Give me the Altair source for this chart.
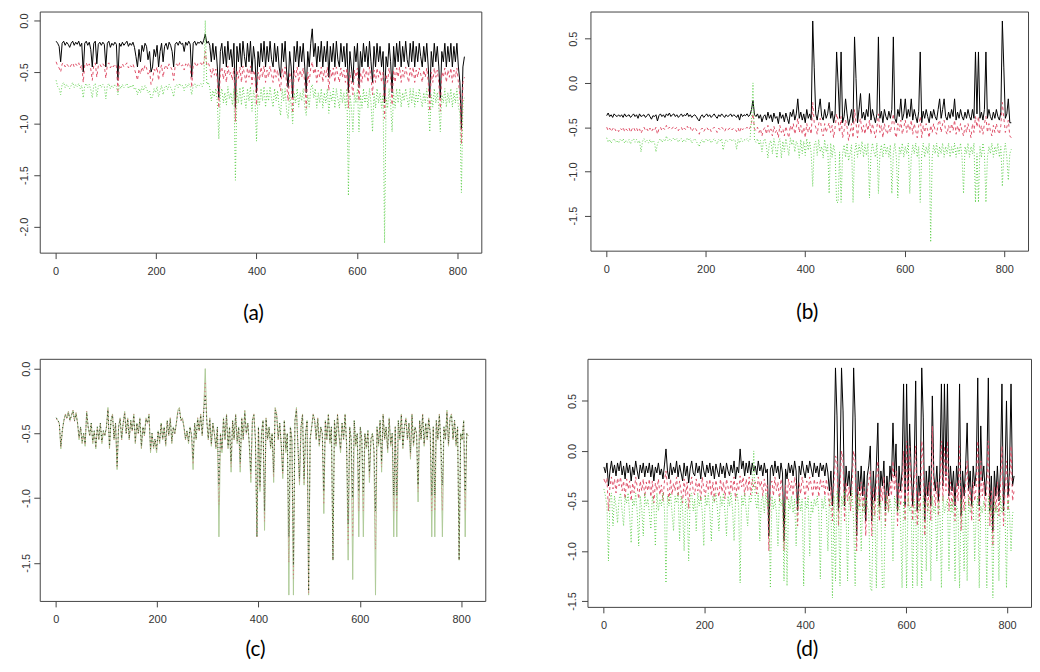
import altair as alt
import pandas as pd

# ---------------- data (one value every 3 steps) ----------------
X_STEP = 3
X_TICKS = [0, 200, 400, 600, 800]
PANEL_LABELS = ["(a)", "(b)", "(c)", "(d)"]

A_BLACK = [
    -0.20, -0.22, -0.25, -0.40, -0.22, -0.20, -0.24, -0.21, -0.23, -0.26,
    -0.22, -0.20, -0.24, -0.21, -0.23, -0.20, -0.25, -0.22, -0.50, -0.22,
    -0.20, -0.24, -0.21, -0.28, -0.45, -0.22, -0.20, -0.42, -0.23, -0.21,
    -0.24, -0.21, -0.23, -0.45, -0.22, -0.20, -0.26, -0.22, -0.24, -0.21,
    -0.23, -0.58, -0.22, -0.25, -0.21, -0.24, -0.22, -0.20, -0.25, -0.22,
    -0.24, -0.21, -0.26, -0.35, -0.45, -0.28, -0.40, -0.24, -0.30, -0.22,
    -0.25, -0.38, -0.30, -0.50, -0.45, -0.28, -0.35, -0.24, -0.45, -0.30,
    -0.22, -0.40, -0.25, -0.22, -0.28, -0.21, -0.24, -0.30, -0.45, -0.23,
    -0.21, -0.24, -0.20, -0.23, -0.22, -0.30, -0.21, -0.24, -0.20, -0.23,
    -0.55, -0.22, -0.20, -0.24, -0.21, -0.22, -0.20, -0.23, -0.19, -0.13,
    -0.22, -0.20, -0.24, -0.40, -0.22, -0.38, -0.25, -0.45, -0.75, -0.30,
    -0.22, -0.42, -0.25, -0.45, -0.20, -0.38, -0.28, -0.45, -0.22, -0.85,
    -0.25, -0.40, -0.22, -0.45, -0.20, -0.35, -0.45, -0.22, -0.40, -0.20,
    -0.50, -0.25, -0.38, -0.70, -0.30, -0.45, -0.22, -0.40, -0.20, -0.45,
    -0.25, -0.40, -0.20, -0.38, -0.45, -0.22, -0.40, -0.25, -0.45, -0.55,
    -0.22, -0.40, -0.20, -0.50, -0.65, -0.30, -0.45, -0.75, -0.25, -0.40,
    -0.20, -0.45, -0.25, -0.40, -0.22, -0.45, -0.70, -0.30, -0.45, -0.22,
    -0.08, -0.35, -0.22, -0.45, -0.25, -0.40, -0.20, -0.45, -0.25, -0.40,
    -0.20, -0.55, -0.25, -0.40, -0.22, -0.45, -0.20, -0.38, -0.45, -0.22,
    -0.40, -0.25, -0.45, -0.22, -0.70, -0.30, -0.45, -0.60, -0.25, -0.40,
    -0.22, -0.65, -0.30, -0.45, -0.22, -0.40, -0.25, -0.45, -0.20, -0.40,
    -0.60, -0.25, -0.45, -0.22, -0.40, -0.25, -0.45, -0.30, -0.80, -0.35,
    -0.45, -0.22, -0.40, -0.70, -0.25, -0.45, -0.22, -0.40, -0.20, -0.45,
    -0.25, -0.40, -0.20, -0.38, -0.45, -0.22, -0.40, -0.20, -0.45, -0.25,
    -0.40, -0.22, -0.35, -0.45, -0.25, -0.40, -0.22, -0.45, -0.75, -0.30,
    -0.45, -0.22, -0.40, -0.25, -0.45, -0.75, -0.30, -0.40, -0.22, -0.45,
    -0.25, -0.40, -0.22, -0.45, -0.25, -0.40, -0.22, -0.45, -0.60, -1.05,
    -0.45, -0.35,
]
A_RED = [
    -0.40, -0.44, -0.46, -0.50, -0.42, -0.41, -0.45, -0.42, -0.44, -0.46,
    -0.43, -0.41, -0.45, -0.42, -0.44, -0.41, -0.46, -0.43, -0.60, -0.43,
    -0.41, -0.45, -0.42, -0.47, -0.58, -0.43, -0.41, -0.55, -0.44, -0.42,
    -0.45, -0.42, -0.44, -0.56, -0.43, -0.41, -0.46, -0.43, -0.45, -0.42,
    -0.44, -0.68, -0.43, -0.46, -0.42, -0.45, -0.43, -0.41, -0.46, -0.43,
    -0.45, -0.42, -0.47, -0.52, -0.58, -0.47, -0.52, -0.45, -0.49, -0.43,
    -0.46, -0.52, -0.48, -0.62, -0.58, -0.47, -0.50, -0.45, -0.58, -0.48,
    -0.43, -0.55, -0.46, -0.43, -0.47, -0.42, -0.45, -0.48, -0.58, -0.44,
    -0.42, -0.45, -0.41, -0.44, -0.43, -0.48, -0.42, -0.45, -0.41, -0.44,
    -0.65, -0.43, -0.41, -0.45, -0.42, -0.43, -0.41, -0.44, -0.40, -0.30,
    -0.43, -0.41, -0.45, -0.55, -0.46, -0.53, -0.47, -0.58, -0.85, -0.50,
    -0.45, -0.57, -0.48, -0.60, -0.44, -0.53, -0.50, -0.58, -0.46, -0.98,
    -0.48, -0.56, -0.45, -0.60, -0.44, -0.52, -0.60, -0.46, -0.55, -0.44,
    -0.62, -0.48, -0.53, -0.82, -0.50, -0.58, -0.45, -0.55, -0.44, -0.60,
    -0.48, -0.55, -0.44, -0.53, -0.60, -0.46, -0.55, -0.48, -0.60, -0.68,
    -0.46, -0.55, -0.45, -0.62, -0.78, -0.50, -0.58, -0.90, -0.48, -0.55,
    -0.45, -0.60, -0.48, -0.55, -0.46, -0.60, -0.85, -0.50, -0.60, -0.46,
    -0.40, -0.52, -0.46, -0.60, -0.48, -0.55, -0.45, -0.60, -0.48, -0.55,
    -0.45, -0.68, -0.48, -0.55, -0.46, -0.60, -0.45, -0.53, -0.60, -0.46,
    -0.55, -0.48, -0.60, -0.46, -0.85, -0.50, -0.60, -0.72, -0.48, -0.55,
    -0.46, -0.78, -0.50, -0.60, -0.46, -0.55, -0.48, -0.60, -0.45, -0.55,
    -0.72, -0.48, -0.60, -0.46, -0.55, -0.48, -0.60, -0.50, -0.95, -0.52,
    -0.60, -0.46, -0.55, -0.82, -0.48, -0.60, -0.46, -0.55, -0.45, -0.60,
    -0.48, -0.55, -0.45, -0.53, -0.60, -0.46, -0.55, -0.45, -0.60, -0.48,
    -0.55, -0.46, -0.52, -0.60, -0.48, -0.55, -0.46, -0.60, -0.88, -0.50,
    -0.60, -0.46, -0.55, -0.48, -0.60, -0.88, -0.50, -0.55, -0.46, -0.60,
    -0.48, -0.55, -0.46, -0.60, -0.48, -0.55, -0.46, -0.60, -0.72, -1.20,
    -0.60, -0.55,
]
A_GREEN = [
    -0.58, -0.64, -0.66, -0.72, -0.62, -0.60, -0.65, -0.62, -0.64, -0.66,
    -0.63, -0.60, -0.65, -0.62, -0.64, -0.61, -0.66, -0.63, -0.75, -0.63,
    -0.61, -0.65, -0.62, -0.67, -0.75, -0.63, -0.61, -0.74, -0.64, -0.62,
    -0.65, -0.62, -0.64, -0.76, -0.63, -0.61, -0.66, -0.63, -0.65, -0.62,
    -0.64, -0.72, -0.63, -0.66, -0.62, -0.65, -0.63, -0.61, -0.66, -0.63,
    -0.65, -0.62, -0.67, -0.66, -0.72, -0.66, -0.70, -0.64, -0.68, -0.63,
    -0.66, -0.70, -0.68, -0.76, -0.74, -0.66, -0.70, -0.64, -0.74, -0.68,
    -0.63, -0.72, -0.65, -0.63, -0.67, -0.62, -0.65, -0.68, -0.74, -0.64,
    -0.62, -0.65, -0.61, -0.64, -0.63, -0.68, -0.62, -0.65, -0.61, -0.64,
    -0.72, -0.63, -0.61, -0.65, -0.62, -0.63, -0.61, -0.64, -0.60, 0.00,
    -0.62, -0.60, -0.65, -0.78, -0.68, -0.74, -0.66, -0.80, -1.15, -0.72,
    -0.66, -0.80, -0.70, -0.82, -0.64, -0.76, -0.70, -0.82, -0.66, -1.55,
    -0.68, -0.80, -0.65, -0.82, -0.64, -0.75, -0.85, -0.66, -0.78, -0.64,
    -0.88, -0.68, -0.76, -1.17, -0.72, -0.82, -0.66, -0.78, -0.64, -0.84,
    -0.68, -0.78, -0.64, -0.76, -0.84, -0.66, -0.78, -0.68, -0.84, -0.92,
    -0.66, -0.78, -0.66, -0.88, -0.95, -0.72, -0.82, -1.00, -0.70, -0.80,
    -0.66, -0.84, -0.70, -0.78, -0.66, -0.84, -0.92, -0.72, -0.84, -0.66,
    -0.62, -0.75, -0.66, -0.85, -0.70, -0.80, -0.66, -0.85, -0.70, -0.80,
    -0.66, -0.90, -0.70, -0.78, -0.66, -0.85, -0.66, -0.76, -0.85, -0.66,
    -0.80, -0.70, -0.85, -0.66, -1.70, -0.72, -0.84, -1.08, -0.70, -0.80,
    -0.66, -1.08, -0.72, -0.85, -0.66, -0.80, -0.70, -0.85, -0.66, -0.80,
    -1.08, -0.70, -0.85, -0.66, -0.80, -0.70, -0.85, -0.72, -2.16, -0.75,
    -0.85, -0.66, -0.80, -1.08, -0.70, -0.85, -0.66, -0.80, -0.66, -0.84,
    -0.70, -0.78, -0.66, -0.76, -0.84, -0.66, -0.80, -0.66, -0.84, -0.70,
    -0.80, -0.66, -0.76, -0.84, -0.70, -0.80, -0.66, -0.84, -1.08, -0.72,
    -0.84, -0.66, -0.80, -0.70, -0.84, -1.08, -0.72, -0.80, -0.66, -0.84,
    -0.70, -0.80, -0.66, -0.84, -0.70, -0.80, -0.66, -0.84, -0.90, -1.67,
    -0.80, -0.75,
]

B_BLACK = [
    -0.37, -0.34, -0.38, -0.36, -0.39, -0.35, -0.37, -0.38, -0.36, -0.38,
    -0.36, -0.39, -0.35, -0.38, -0.37, -0.36, -0.39, -0.37, -0.35, -0.38,
    -0.36, -0.40, -0.35, -0.38, -0.37, -0.36, -0.39, -0.37, -0.35, -0.38,
    -0.41, -0.37, -0.38, -0.36, -0.43, -0.37, -0.35, -0.38, -0.36, -0.39,
    -0.35, -0.37, -0.34, -0.38, -0.36, -0.35, -0.38, -0.36, -0.39, -0.37,
    -0.35, -0.38, -0.36, -0.37, -0.34, -0.38, -0.36, -0.39, -0.37, -0.36,
    -0.38, -0.41, -0.43, -0.38, -0.36, -0.39, -0.37, -0.35, -0.38, -0.36,
    -0.39, -0.37, -0.35, -0.38, -0.40, -0.36, -0.38, -0.35, -0.37, -0.39,
    -0.36, -0.38, -0.37, -0.35, -0.38, -0.36, -0.37, -0.39, -0.36, -0.42,
    -0.35, -0.38, -0.36, -0.37, -0.35, -0.38, -0.36, -0.30, -0.20, -0.36,
    -0.38, -0.35, -0.40, -0.36, -0.44, -0.38, -0.36, -0.42, -0.33, -0.40,
    -0.36, -0.44, -0.34, -0.40, -0.38, -0.46, -0.33, -0.40, -0.36, -0.44,
    -0.34, -0.40, -0.46, -0.33, -0.38, -0.30, -0.42, -0.35, -0.18, -0.40,
    -0.33, -0.42, -0.35, -0.45, -0.30, -0.40, -0.35, -0.42, 0.70, 0.17,
    -0.35, -0.42, -0.30, -0.18, -0.38, -0.42, -0.30, -0.40, -0.35, -0.22,
    -0.40, -0.32, -0.45, -0.35, 0.35, 0.00, -0.40, 0.35, -0.45, -0.38,
    -0.18, -0.35, -0.48, -0.40, -0.30, -0.45, 0.52, 0.05, -0.45, -0.30,
    -0.12, -0.40, -0.33, -0.42, -0.30, -0.38, -0.12, -0.42, -0.30, -0.38,
    -0.45, -0.35, 0.52, -0.40, -0.32, -0.45, -0.30, -0.38, -0.42, -0.32,
    -0.40, -0.30, 0.52, -0.40, -0.45, -0.30, -0.38, -0.18, -0.42, -0.35,
    -0.18, -0.40, -0.30, -0.38, -0.18, -0.42, -0.30, -0.38, -0.45, -0.32,
    0.35, -0.45, -0.32, -0.40, -0.30, -0.38, -0.45, -0.32, -0.40, -0.30,
    -0.38, -0.42, -0.30, -0.18, -0.40, -0.30, -0.18, -0.38, -0.42, -0.33,
    -0.40, -0.30, -0.38, -0.18, -0.42, -0.33, -0.40, -0.30, -0.38, -0.42,
    -0.33, -0.40, -0.30, -0.38, -0.42, -0.30, -0.40, 0.35, -0.35, 0.35,
    -0.40, -0.33, -0.42, -0.30, 0.35, -0.40, -0.30, -0.38, -0.42, -0.33,
    -0.40, -0.30, -0.38, -0.42, -0.33, 0.70, 0.17, -0.40, -0.35, -0.18,
    -0.45, -0.45,
]
B_RED = [
    -0.50, -0.54, -0.51, -0.55, -0.52, -0.50, -0.54, -0.52, -0.55, -0.51,
    -0.53, -0.50, -0.55, -0.52, -0.54, -0.51, -0.56, -0.52, -0.50, -0.54,
    -0.51, -0.55, -0.52, -0.57, -0.53, -0.50, -0.54, -0.52, -0.55, -0.51,
    -0.55, -0.52, -0.54, -0.50, -0.58, -0.52, -0.50, -0.54, -0.51, -0.53,
    -0.48, -0.52, -0.50, -0.53, -0.51, -0.49, -0.52, -0.50, -0.54, -0.51,
    -0.50, -0.54, -0.51, -0.53, -0.49, -0.52, -0.50, -0.55, -0.52, -0.50,
    -0.53, -0.56, -0.58, -0.53, -0.51, -0.55, -0.52, -0.50, -0.53, -0.51,
    -0.55, -0.52, -0.50, -0.53, -0.56, -0.51, -0.53, -0.50, -0.52, -0.55,
    -0.51, -0.53, -0.52, -0.50, -0.53, -0.51, -0.52, -0.55, -0.51, -0.56,
    -0.50, -0.53, -0.51, -0.52, -0.50, -0.53, -0.51, -0.45, -0.35, -0.52,
    -0.54, -0.50, -0.56, -0.52, -0.60, -0.53, -0.50, -0.58, -0.48, -0.56,
    -0.52, -0.60, -0.49, -0.56, -0.53, -0.62, -0.48, -0.56, -0.52, -0.60,
    -0.49, -0.56, -0.62, -0.48, -0.54, -0.46, -0.58, -0.50, -0.40, -0.56,
    -0.48, -0.58, -0.50, -0.62, -0.46, -0.56, -0.50, -0.58, -0.22, -0.45,
    -0.50, -0.58, -0.46, -0.40, -0.54, -0.60, -0.46, -0.56, -0.50, -0.45,
    -0.56, -0.48, -0.62, -0.50, -0.35, -0.42, -0.56, -0.38, -0.62, -0.54,
    -0.42, -0.50, -0.65, -0.56, -0.46, -0.62, -0.30, -0.45, -0.62, -0.46,
    -0.40, -0.56, -0.48, -0.58, -0.46, -0.54, -0.42, -0.58, -0.46, -0.54,
    -0.62, -0.50, -0.35, -0.56, -0.48, -0.62, -0.46, -0.54, -0.58, -0.48,
    -0.56, -0.46, -0.35, -0.56, -0.62, -0.46, -0.54, -0.42, -0.58, -0.50,
    -0.42, -0.56, -0.46, -0.54, -0.42, -0.58, -0.46, -0.54, -0.62, -0.48,
    -0.38, -0.62, -0.48, -0.56, -0.46, -0.54, -0.62, -0.48, -0.56, -0.46,
    -0.54, -0.58, -0.46, -0.42, -0.56, -0.46, -0.42, -0.54, -0.58, -0.48,
    -0.56, -0.46, -0.54, -0.42, -0.58, -0.48, -0.56, -0.46, -0.54, -0.60,
    -0.48, -0.56, -0.46, -0.54, -0.62, -0.46, -0.56, -0.38, -0.50, -0.38,
    -0.56, -0.48, -0.58, -0.46, -0.38, -0.56, -0.46, -0.54, -0.60, -0.48,
    -0.56, -0.46, -0.54, -0.58, -0.48, -0.22, -0.40, -0.56, -0.50, -0.42,
    -0.60, -0.62,
]
B_GREEN = [
    -0.62, -0.67, -0.64, -0.68, -0.65, -0.63, -0.67, -0.65, -0.68, -0.64,
    -0.66, -0.63, -0.68, -0.65, -0.67, -0.64, -0.69, -0.65, -0.63, -0.67,
    -0.64, -0.68, -0.65, -0.78, -0.66, -0.63, -0.67, -0.65, -0.68, -0.64,
    -0.68, -0.65, -0.67, -0.78, -0.69, -0.65, -0.63, -0.67, -0.64, -0.66,
    -0.60, -0.65, -0.63, -0.66, -0.64, -0.62, -0.65, -0.63, -0.67, -0.64,
    -0.63, -0.67, -0.64, -0.66, -0.62, -0.65, -0.63, -0.68, -0.65, -0.63,
    -0.66, -0.69, -0.72, -0.66, -0.64, -0.68, -0.65, -0.63, -0.66, -0.64,
    -0.68, -0.65, -0.63, -0.66, -0.69, -0.64, -0.66, -0.63, -0.76, -0.68,
    -0.64, -0.66, -0.65, -0.63, -0.66, -0.64, -0.65, -0.75, -0.64, -0.68,
    -0.63, -0.66, -0.64, -0.65, -0.63, -0.66, -0.64, -0.40, 0.00, -0.65,
    -0.67, -0.63, -0.70, -0.65, -0.78, -0.66, -0.63, -0.72, -0.85, -0.68,
    -0.65, -0.80, -0.63, -0.72, -0.85, -0.68, -0.63, -0.85, -0.66, -0.78,
    -0.63, -0.72, -0.82, -0.62, -0.70, -0.64, -0.78, -0.66, -0.70, -0.85,
    -0.64, -0.80, -0.66, -0.82, -0.63, -0.76, -0.66, -0.80, -1.17, -0.70,
    -0.66, -0.82, -0.64, -0.78, -0.72, -0.85, -0.64, -0.78, -0.70, -1.25,
    -0.68, -0.84, -0.70, -0.80, -1.35, -1.35, -0.78, -1.35, -0.80, -0.70,
    -0.84, -0.68, -0.88, -0.80, -0.70, -1.35, -0.80, -0.68, -0.84, -0.70,
    -0.80, -0.66, -0.84, -0.70, -0.82, -0.68, -1.30, -0.80, -0.68, -0.78,
    -0.84, -0.68, -1.25, -0.80, -0.70, -0.84, -0.68, -0.80, -0.72, -0.84,
    -0.70, -1.25, -0.80, -0.68, -0.84, -1.30, -0.72, -0.80, -0.68, -0.84,
    -0.72, -0.80, -0.68, -1.25, -0.84, -0.70, -0.80, -0.68, -0.84, -0.72,
    -1.35, -0.80, -0.68, -0.84, -0.72, -0.80, -0.68, -1.80, -0.84, -0.70,
    -0.80, -0.68, -0.84, -0.72, -0.80, -0.68, -0.84, -0.72, -0.80, -0.68,
    -0.84, -0.72, -0.80, -0.68, -0.84, -0.72, -0.80, -0.68, -0.84, -1.25,
    -0.72, -0.80, -0.68, -0.84, -0.72, -0.80, -0.68, -1.35, -0.80, -1.35,
    -0.72, -0.84, -0.68, -0.80, -1.35, -0.84, -0.72, -0.80, -0.68, -0.84,
    -0.72, -0.80, -0.68, -0.84, -0.72, -1.17, -0.80, -0.68, -0.84, -1.10,
    -0.80, -0.75,
]

C_BLACK = [
    -0.38, -0.40, -0.42, -0.60, -0.47, -0.40, -0.36, -0.38, -0.34, -0.40,
    -0.36, -0.33, -0.40, -0.35, -0.42, -0.53, -0.45, -0.56, -0.50, -0.58,
    -0.34, -0.45, -0.51, -0.42, -0.56, -0.48, -0.60, -0.45, -0.54, -0.42,
    -0.56, -0.48, -0.51, -0.45, -0.32, -0.60, -0.40, -0.36, -0.54, -0.42,
    -0.75, -0.45, -0.39, -0.54, -0.42, -0.35, -0.50, -0.39, -0.54, -0.40,
    -0.48, -0.36, -0.56, -0.42, -0.50, -0.39, -0.60, -0.45, -0.51, -0.39,
    -0.42, -0.36, -0.62, -0.50, -0.60, -0.54, -0.62, -0.48, -0.56, -0.42,
    -0.54, -0.45, -0.58, -0.40, -0.51, -0.39, -0.56, -0.45, -0.50, -0.42,
    -0.34, -0.32, -0.40, -0.39, -0.45, -0.54, -0.48, -0.56, -0.45, -0.51,
    -0.70, -0.42, -0.54, -0.39, -0.48, -0.36, -0.51, -0.33, -0.20, -0.40,
    -0.54, -0.39, -0.58, -0.42, -0.50, -0.60, -0.45, -0.90, -0.50, -0.62,
    -0.39, -0.54, -0.36, -0.60, -0.45, -0.72, -0.40, -0.54, -0.36, -0.56,
    -0.45, -0.72, -0.39, -0.54, -0.34, -0.50, -0.42, -0.58, -0.80, -0.40,
    -0.36, -0.54, -1.30, -0.45, -0.90, -0.50, -0.40, -1.10, -0.39, -0.54,
    -0.45, -0.60, -0.50, -0.80, -0.32, -0.36, -0.54, -0.42, -0.58, -0.80,
    -0.40, -0.62, -0.50, -1.30, -0.45, -0.54, -1.52, -0.40, -0.32, -0.60,
    -0.85, -0.45, -0.36, -0.85, -0.50, -0.40, -1.72, -0.54, -0.45, -0.36,
    -0.40, -0.54, -0.39, -0.58, -0.45, -0.50, -0.95, -0.40, -0.54, -0.36,
    -0.56, -0.45, -1.48, -0.40, -0.58, -0.36, -0.51, -0.62, -0.42, -0.54,
    -0.36, -0.58, -1.20, -0.45, -0.54, -1.00, -0.40, -0.58, -0.50, -0.95,
    -0.45, -0.54, -0.95, -0.50, -0.60, -0.48, -0.80, -0.54, -0.50, -0.62,
    -1.10, -0.45, -0.58, -0.40, -0.72, -0.36, -0.54, -0.45, -0.62, -0.39,
    -0.58, -0.50, -0.98, -0.45, -0.98, -0.40, -0.54, -0.36, -0.60, -0.45,
    -0.39, -0.54, -0.42, -0.65, -0.36, -0.58, -0.45, -0.50, -0.90, -0.40,
    -0.54, -0.36, -0.58, -0.42, -0.54, -0.39, -0.50, -0.98, -0.45, -0.98,
    -0.40, -0.54, -0.36, -0.58, -0.90, -0.45, -0.54, -0.34, -0.58, -0.39,
    -0.36, -0.54, -0.40, -0.58, -0.45, -1.48, -0.50, -0.54, -0.40, -0.95,
    -0.50, -0.52,
]
C_RED = [
    -0.39, -0.41, -0.43, -0.61, -0.48, -0.41, -0.35, -0.39, -0.33, -0.41,
    -0.37, -0.32, -0.41, -0.34, -0.43, -0.54, -0.46, -0.57, -0.51, -0.59,
    -0.33, -0.46, -0.52, -0.43, -0.57, -0.49, -0.61, -0.46, -0.55, -0.43,
    -0.57, -0.49, -0.52, -0.46, -0.31, -0.61, -0.41, -0.35, -0.55, -0.43,
    -0.76, -0.46, -0.38, -0.55, -0.43, -0.34, -0.51, -0.38, -0.55, -0.41,
    -0.49, -0.35, -0.57, -0.43, -0.51, -0.38, -0.61, -0.46, -0.52, -0.38,
    -0.43, -0.35, -0.63, -0.51, -0.61, -0.55, -0.63, -0.49, -0.57, -0.43,
    -0.55, -0.46, -0.59, -0.41, -0.52, -0.38, -0.57, -0.46, -0.51, -0.43,
    -0.33, -0.31, -0.41, -0.38, -0.46, -0.55, -0.49, -0.57, -0.46, -0.52,
    -0.74, -0.43, -0.55, -0.38, -0.49, -0.35, -0.52, -0.32, -0.10, -0.41,
    -0.55, -0.38, -0.59, -0.43, -0.51, -0.61, -0.46, -1.05, -0.51, -0.63,
    -0.38, -0.55, -0.35, -0.61, -0.46, -0.76, -0.41, -0.55, -0.35, -0.57,
    -0.46, -0.76, -0.38, -0.55, -0.33, -0.51, -0.43, -0.59, -0.84, -0.41,
    -0.35, -0.55, -1.30, -0.46, -0.92, -0.51, -0.41, -1.18, -0.38, -0.55,
    -0.46, -0.61, -0.51, -0.84, -0.31, -0.35, -0.55, -0.43, -0.59, -0.82,
    -0.41, -0.63, -0.51, -1.50, -0.46, -0.55, -1.62, -0.41, -0.31, -0.61,
    -0.88, -0.46, -0.35, -0.88, -0.51, -0.41, -1.74, -0.55, -0.46, -0.35,
    -0.41, -0.55, -0.38, -0.59, -0.46, -0.51, -1.05, -0.41, -0.55, -0.35,
    -0.57, -0.46, -1.48, -0.41, -0.59, -0.35, -0.52, -0.63, -0.43, -0.55,
    -0.35, -0.59, -1.35, -0.46, -0.55, -1.30, -0.41, -0.59, -0.51, -1.10,
    -0.46, -0.55, -1.10, -0.51, -0.61, -0.49, -0.84, -0.55, -0.51, -0.63,
    -1.40, -0.46, -0.59, -0.41, -0.76, -0.35, -0.55, -0.46, -0.63, -0.38,
    -0.59, -0.51, -1.10, -0.46, -1.10, -0.41, -0.55, -0.35, -0.61, -0.46,
    -0.38, -0.55, -0.43, -0.68, -0.35, -0.59, -0.46, -0.51, -0.95, -0.41,
    -0.55, -0.35, -0.59, -0.43, -0.55, -0.38, -0.51, -1.10, -0.46, -1.10,
    -0.41, -0.55, -0.35, -0.59, -1.10, -0.46, -0.55, -0.33, -0.59, -0.38,
    -0.35, -0.55, -0.41, -0.59, -0.46, -1.48, -0.51, -0.55, -0.41, -1.10,
    -0.50, -0.52,
]
C_GREEN = [
    -0.38, -0.40, -0.42, -0.62, -0.48, -0.40, -0.35, -0.38, -0.33, -0.40,
    -0.36, -0.32, -0.40, -0.34, -0.42, -0.55, -0.45, -0.58, -0.50, -0.60,
    -0.33, -0.45, -0.52, -0.42, -0.58, -0.48, -0.62, -0.45, -0.55, -0.42,
    -0.58, -0.48, -0.52, -0.45, -0.30, -0.62, -0.40, -0.35, -0.55, -0.42,
    -0.78, -0.45, -0.38, -0.55, -0.42, -0.33, -0.50, -0.38, -0.55, -0.40,
    -0.48, -0.35, -0.58, -0.42, -0.50, -0.38, -0.62, -0.45, -0.52, -0.38,
    -0.42, -0.35, -0.65, -0.50, -0.62, -0.55, -0.65, -0.48, -0.58, -0.42,
    -0.55, -0.45, -0.60, -0.40, -0.52, -0.38, -0.58, -0.45, -0.50, -0.42,
    -0.32, -0.30, -0.40, -0.38, -0.45, -0.55, -0.48, -0.58, -0.45, -0.52,
    -0.78, -0.42, -0.55, -0.38, -0.48, -0.35, -0.52, -0.32, 0.00, -0.40,
    -0.55, -0.38, -0.60, -0.42, -0.50, -0.62, -0.45, -1.30, -0.50, -0.65,
    -0.38, -0.55, -0.35, -0.62, -0.45, -0.80, -0.40, -0.55, -0.35, -0.58,
    -0.45, -0.80, -0.38, -0.55, -0.32, -0.50, -0.42, -0.60, -0.88, -0.40,
    -0.35, -0.55, -1.30, -0.45, -0.95, -0.50, -0.40, -1.25, -0.38, -0.55,
    -0.45, -0.62, -0.50, -0.88, -0.30, -0.35, -0.55, -0.42, -0.60, -0.85,
    -0.40, -0.65, -0.50, -1.75, -0.45, -0.55, -1.75, -0.40, -0.30, -0.62,
    -0.90, -0.45, -0.35, -0.90, -0.50, -0.40, -1.75, -0.55, -0.45, -0.35,
    -0.40, -0.55, -0.38, -0.60, -0.45, -0.50, -1.12, -0.40, -0.55, -0.35,
    -0.58, -0.45, -1.48, -0.40, -0.60, -0.35, -0.52, -0.65, -0.42, -0.55,
    -0.35, -0.60, -1.48, -0.45, -0.55, -1.63, -0.40, -0.60, -0.50, -1.30,
    -0.45, -0.55, -1.30, -0.50, -0.62, -0.48, -0.88, -0.55, -0.50, -0.65,
    -1.75, -0.45, -0.60, -0.40, -0.80, -0.35, -0.55, -0.45, -0.65, -0.38,
    -0.60, -0.50, -1.30, -0.45, -1.30, -0.40, -0.55, -0.35, -0.62, -0.45,
    -0.38, -0.55, -0.42, -0.70, -0.35, -0.60, -0.45, -0.50, -1.03, -0.40,
    -0.55, -0.35, -0.60, -0.42, -0.55, -0.38, -0.50, -1.30, -0.45, -1.30,
    -0.40, -0.55, -0.35, -0.60, -1.30, -0.45, -0.55, -0.32, -0.60, -0.38,
    -0.35, -0.55, -0.40, -0.60, -0.45, -1.48, -0.50, -0.55, -0.40, -1.30,
    -0.50, -0.52,
]

D_BLACK = [
    -0.16, -0.22, -0.12, -0.35, -0.20, -0.10, -0.22, -0.14, -0.25, -0.12,
    -0.20, -0.10, -0.24, -0.15, -0.28, -0.12, -0.22, -0.14, -0.30, -0.16,
    -0.24, -0.10, -0.20, -0.28, -0.14, -0.22, -0.12, -0.26, -0.15, -0.22,
    -0.12, -0.26, -0.14, -0.30, -0.16, -0.22, -0.12, -0.24, -0.18, -0.28,
    -0.14, 0.02, -0.20, -0.28, -0.12, -0.24, -0.16, -0.22, -0.10, -0.26,
    -0.14, -0.22, -0.30, -0.12, -0.25, -0.15, -0.32, -0.18, -0.10, -0.22,
    -0.25, -0.12, -0.22, -0.15, -0.28, -0.10, -0.20, -0.26, -0.14, -0.22,
    -0.12, -0.25, -0.15, -0.28, -0.13, -0.20, -0.26, -0.12, -0.23, -0.15,
    -0.27, -0.12, -0.20, -0.25, -0.14, -0.22, -0.10, -0.28, -0.16, -0.22,
    0.02, -0.18, -0.10, -0.25, -0.12, -0.22, -0.10, -0.24, -0.12, -0.20,
    -0.15, -0.24, -0.10, -0.20, -0.14, -0.25, -0.12, -0.22, -0.18, -0.85,
    -0.18, -0.14, -0.25, -0.10, -0.22, -0.15, -0.28, -0.12, -0.22, -0.90,
    -0.18, -0.28, -0.12, -0.22, -0.14, -0.25, -0.10, -0.20, -0.60, -0.15,
    -0.24, -0.10, -0.20, -0.27, -0.14, -0.22, -0.10, -0.18, -0.26, -0.12,
    -0.22, -0.15, -0.26, -0.12, -0.20, -0.14, -0.25, -0.12, -0.22, -0.40,
    -0.20, -0.55, -0.15, 0.83, 0.35, -0.60, -0.20, 0.83, 0.40, -0.55,
    -0.15, -0.35, -0.20, -0.45, -0.15, 0.83, 0.33, -0.85, -0.20, -0.40,
    -0.15, -0.45, -0.20, -0.70, -0.25, -0.15, 0.05, -0.70, -0.20, -0.50,
    -0.15, 0.28, -0.55, -0.20, -0.35, -0.10, -0.60, -0.25, -0.45, -0.15,
    -0.30, 0.28, -0.25, 0.07, -0.60, -0.15, -0.40, -0.20, 0.67, -0.55,
    0.67, -0.40, 0.27, -0.20, -0.55, -0.15, 0.70, -0.60, -0.25, -0.45,
    0.83, 0.33, -0.70, -0.20, -0.45, -0.15, -0.55, 0.55, -0.25, -0.40,
    -0.15, -0.50, -0.20, 0.67, -0.35, 0.67, -0.25, 0.67, -0.45, -0.15,
    -0.40, -0.20, -0.55, -0.15, -0.35, 0.67, -0.65, -0.20, -0.45, -0.15,
    0.28, -0.40, -0.20, -0.55, -0.15, -0.35, -0.20, 0.73, -0.55, 0.25,
    -0.30, -0.15, -0.45, -0.20, 0.73, -0.60, -0.25, -0.80, -0.20, -0.45,
    -0.15, -0.50, -0.20, 0.67, -0.60, -0.25, 0.50, -0.45, -0.20, 0.67,
    -0.35, -0.25,
]
D_RED = [
    -0.28, -0.33, -0.27, -0.60, -0.35, -0.26, -0.38, -0.28, -0.42, -0.27,
    -0.35, -0.26, -0.40, -0.30, -0.48, -0.28, -0.38, -0.30, -0.50, -0.32,
    -0.42, -0.26, -0.36, -0.48, -0.30, -0.40, -0.28, -0.46, -0.31, -0.40,
    -0.28, -0.46, -0.30, -0.52, -0.32, -0.40, -0.28, -0.44, -0.34, -0.50,
    -0.30, -0.20, -0.36, -0.50, -0.28, -0.44, -0.32, -0.40, -0.26, -0.46,
    -0.30, -0.40, -0.52, -0.28, -0.45, -0.31, -0.58, -0.36, -0.26, -0.40,
    -0.44, -0.28, -0.40, -0.31, -0.50, -0.26, -0.38, -0.46, -0.30, -0.40,
    -0.28, -0.45, -0.31, -0.50, -0.29, -0.38, -0.46, -0.28, -0.41, -0.31,
    -0.48, -0.28, -0.36, -0.45, -0.30, -0.40, -0.26, -0.50, -0.32, -0.40,
    -0.25, -0.36, -0.26, -0.45, -0.28, -0.40, -0.26, -0.44, -0.28, -0.36,
    -0.31, -0.43, -0.26, -0.36, -0.30, -0.45, -0.28, -0.40, -0.34, -1.00,
    -0.34, -0.30, -0.45, -0.26, -0.40, -0.31, -0.50, -0.28, -0.40, -1.00,
    -0.34, -0.50, -0.28, -0.40, -0.30, -0.45, -0.26, -0.36, -0.75, -0.31,
    -0.43, -0.26, -0.36, -0.48, -0.30, -0.40, -0.26, -0.34, -0.46, -0.28,
    -0.40, -0.31, -0.46, -0.28, -0.36, -0.30, -0.45, -0.28, -0.40, -0.55,
    -0.36, -0.70, -0.31, -0.05, -0.10, -0.75, -0.36, 0.00, -0.10, -0.70,
    -0.31, -0.50, -0.36, -0.60, -0.31, 0.00, -0.10, -1.00, -0.36, -0.55,
    -0.31, -0.60, -0.36, -0.85, -0.40, -0.31, -0.20, -0.85, -0.36, -0.65,
    -0.31, -0.10, -0.70, -0.36, -0.50, -0.26, -0.75, -0.40, -0.60, -0.31,
    -0.45, -0.10, -0.40, -0.20, -0.75, -0.31, -0.55, -0.36, 0.00, -0.70,
    0.10, -0.55, 0.05, -0.36, -0.70, -0.31, 0.05, -0.75, -0.40, -0.60,
    0.10, -0.10, -0.85, -0.36, -0.60, -0.31, -0.70, 0.25, -0.40, -0.55,
    -0.31, -0.65, -0.36, 0.10, -0.50, 0.05, -0.40, 0.10, -0.60, -0.31,
    -0.55, -0.36, -0.70, -0.31, -0.50, 0.05, -0.80, -0.36, -0.60, -0.31,
    -0.10, -0.55, -0.36, -0.70, -0.31, -0.50, -0.36, 0.10, -0.70, -0.10,
    -0.45, -0.31, -0.60, -0.36, 0.10, -0.75, -0.40, -0.95, -0.36, -0.60,
    -0.31, -0.65, -0.36, 0.05, -0.75, -0.40, -0.10, -0.60, -0.36, 0.05,
    -0.50, -0.40,
]
D_GREEN = [
    -0.38, -0.45, -0.55, -1.10, -0.48, -0.42, -0.75, -0.45, -0.55, -0.72,
    -0.48, -0.42, -0.60, -0.75, -0.45, -0.52, -0.42, -0.65, -0.92, -0.48,
    -0.55, -0.42, -0.62, -0.95, -0.45, -0.58, -0.85, -0.42, -0.55, -0.48,
    -0.62, -0.78, -0.45, -0.55, -0.95, -0.42, -0.60, -0.48, -0.55, -0.42,
    -0.58, -1.32, -0.45, -0.55, -0.42, -0.62, -0.80, -0.45, -0.52, -0.42,
    -0.90, -0.45, -0.58, -1.00, -0.48, -0.55, -1.10, -0.45, -0.42, -0.60,
    -0.48, -0.80, -0.42, -0.55, -0.45, -0.62, -0.95, -0.45, -0.55, -0.42,
    -0.60, -0.90, -0.45, -0.52, -0.42, -0.58, -0.80, -0.45, -0.55, -0.42,
    -0.62, -0.85, -0.45, -0.55, -0.42, -0.58, -0.90, -0.48, -0.42, -0.55,
    -1.32, -0.45, -0.55, -0.42, -0.60, -0.75, -0.45, -0.52, -0.42, 0.00,
    -0.48, -0.58, -0.42, -0.90, -0.50, -0.45, -0.62, -0.42, -0.55, -0.48,
    -1.37, -0.45, -0.58, -0.48, -0.62, -0.95, -0.45, -0.55, -0.48, -1.30,
    -0.50, -1.35, -0.48, -0.58, -0.45, -0.62, -0.48, -0.95, -0.52, -0.45,
    -0.60, -0.48, -1.35, -0.50, -0.58, -0.45, -1.05, -0.50, -0.62, -0.48,
    -0.55, -0.45, -0.62, -1.28, -0.48, -0.58, -0.45, -0.62, -1.00, -0.48,
    -0.55, -1.47, -0.45, -1.30, -0.40, -0.60, -1.35, -0.45, -0.55, -0.40,
    -0.62, -1.30, -0.45, -0.55, -0.40, -0.70, -1.35, -0.45, -0.60, -0.42,
    -1.00, -0.50, -0.62, -0.45, -0.55, -0.60, -1.37, -1.40, -0.50, -0.60,
    -1.37, -0.45, -0.62, -0.50, -1.37, -1.37, -0.55, -0.45, -0.62, -0.48,
    -0.60, -1.10, -0.45, -0.55, -0.62, -0.48, -0.70, -1.37, -0.50, -0.62,
    -1.37, -0.45, -0.60, -0.55, -1.37, -0.48, -0.62, -1.35, -0.50, -0.60,
    -1.37, -0.45, -0.62, -1.20, -0.50, -0.60, -1.30, -0.45, -0.62, -0.55,
    -1.10, -0.50, -0.60, -1.37, -0.45, -0.62, -0.55, -0.48, -1.20, -0.50,
    -0.62, -0.45, -1.30, -0.55, -0.60, -1.37, -0.48, -0.62, -1.20, -0.50,
    -1.30, -0.45, -0.62, -0.55, -0.50, -1.10, -0.60, -0.45, -1.37, -0.55,
    -0.62, -0.50, -0.60, -1.37, -0.45, -0.62, -0.55, -1.47, -0.50, -0.62,
    -0.55, -1.30, -0.45, -0.62, -0.55, -0.60, -1.37, -0.48, -0.62, -1.00,
    -0.62, -0.60,
]

A_YTICKS = [0.0, -0.5, -1.0, -1.5, -2.0]
B_YTICKS = [0.5, 0.0, -0.5, -1.0, -1.5]
C_YTICKS = [0.0, -0.5, -1.0, -1.5]
D_YTICKS = [0.5, 0.0, -0.5, -1.0, -1.5]

# ---------------- styling ----------------
BLACK, RED, GREEN = "#000000", "#DF536B", "#61D04F"
X_DOMAIN = [-31.6, 847.6]
LABEL_FONT = "Liberation Sans"
TITLE_FONT = "Lato"


def series_frame(values):
    return pd.DataFrame({"x": [1 + X_STEP * i for i in range(len(values))], "y": values})


def panel(series, ydomain, yticks, width, height, yext, ylabpad, label, title_x, title_y):
    xaxis = alt.Axis(
        values=X_TICKS, format="d", domain=False, grid=False, tickSize=6,
        tickColor="#444444", labelPadding=7, labelFont=LABEL_FONT, labelFontSize=11,
        labelColor="#333333", labelFlush=False, labelOverlap=False,
        title=label, titleFont=TITLE_FONT, titleFontSize=21, titleFontWeight="normal",
        titleColor="#000000", titleX=title_x, titleY=title_y, titleBaseline="top",
        titleAlign="center",
    )
    yaxis = alt.Axis(
        values=yticks, domain=False, grid=False, tickSize=6, tickColor="#444444",
        labelAngle=270, labelAlign="center", labelBaseline="bottom",
        labelPadding=ylabpad, labelFont=LABEL_FONT, labelFontSize=11,
        labelColor="#333333", labelFlush=False, labelOverlap=False,
        labelExpr="replace(format(datum.value, '.1f'), '\u2212', '-')",
        title=None, minExtent=yext, maxExtent=yext,
    )
    layers = []
    for values, style in series:
        layers.append(
            alt.Chart(series_frame(values))
            .mark_line(clip=True, **style)
            .encode(
                x=alt.X("x:Q", scale=alt.Scale(domain=X_DOMAIN, nice=False, zero=False), axis=xaxis),
                y=alt.Y("y:Q", scale=alt.Scale(domain=ydomain, nice=False, zero=False), axis=yaxis),
            )
        )
    return alt.layer(*layers).properties(width=width, height=height)


S_BLACK = {"color": BLACK, "strokeWidth": 1}
S_RED = {"color": RED, "strokeWidth": 1, "strokeDash": [3, 3]}
S_GREEN = {"color": GREEN, "strokeWidth": 1, "strokeDash": [1, 2]}

pa = panel([(A_BLACK, S_BLACK), (A_RED, S_RED), (A_GREEN, S_GREEN)],
           [-2.253, 0.088], A_YTICKS, 445, 243, 31, 4, PANEL_LABELS[0], 215, 50)
pb = panel([(B_BLACK, S_BLACK), (B_RED, S_RED), (B_GREEN, S_GREEN)],
           [-1.896, 0.807], B_YTICKS, 441, 241, 20, 6, PANEL_LABELS[1], 218, 51)
pc = panel([(C_GREEN, {"color": "#AECB98", "strokeWidth": 1}),
            (C_RED, {"color": RED, "strokeWidth": 1, "strokeDash": [1, 3], "opacity": 0.6}),
            (C_BLACK, {"color": "#1E3A14", "strokeWidth": 1, "strokeDash": [1, 3]})],
           [-1.795, 0.076], C_YTICKS, 449, 244, 26, 2, PANEL_LABELS[2], 217, 38)
pd_ = panel([(D_BLACK, S_BLACK), (D_RED, S_RED), (D_GREEN, S_GREEN)],
            [-1.559, 0.921], D_YTICKS, 447, 250, 20, 4, PANEL_LABELS[3], 221, 32)

chart = (
    alt.vconcat(
        alt.hconcat(pa, pb, spacing=85),
        alt.hconcat(pc, pd_, spacing=80),
        spacing=34,
    )
    .properties(padding=0, background="white")
    .configure_view(stroke="#444444", strokeWidth=1)
)

chart.save("out.html", embed_options={"renderer": "svg", "actions": False})
